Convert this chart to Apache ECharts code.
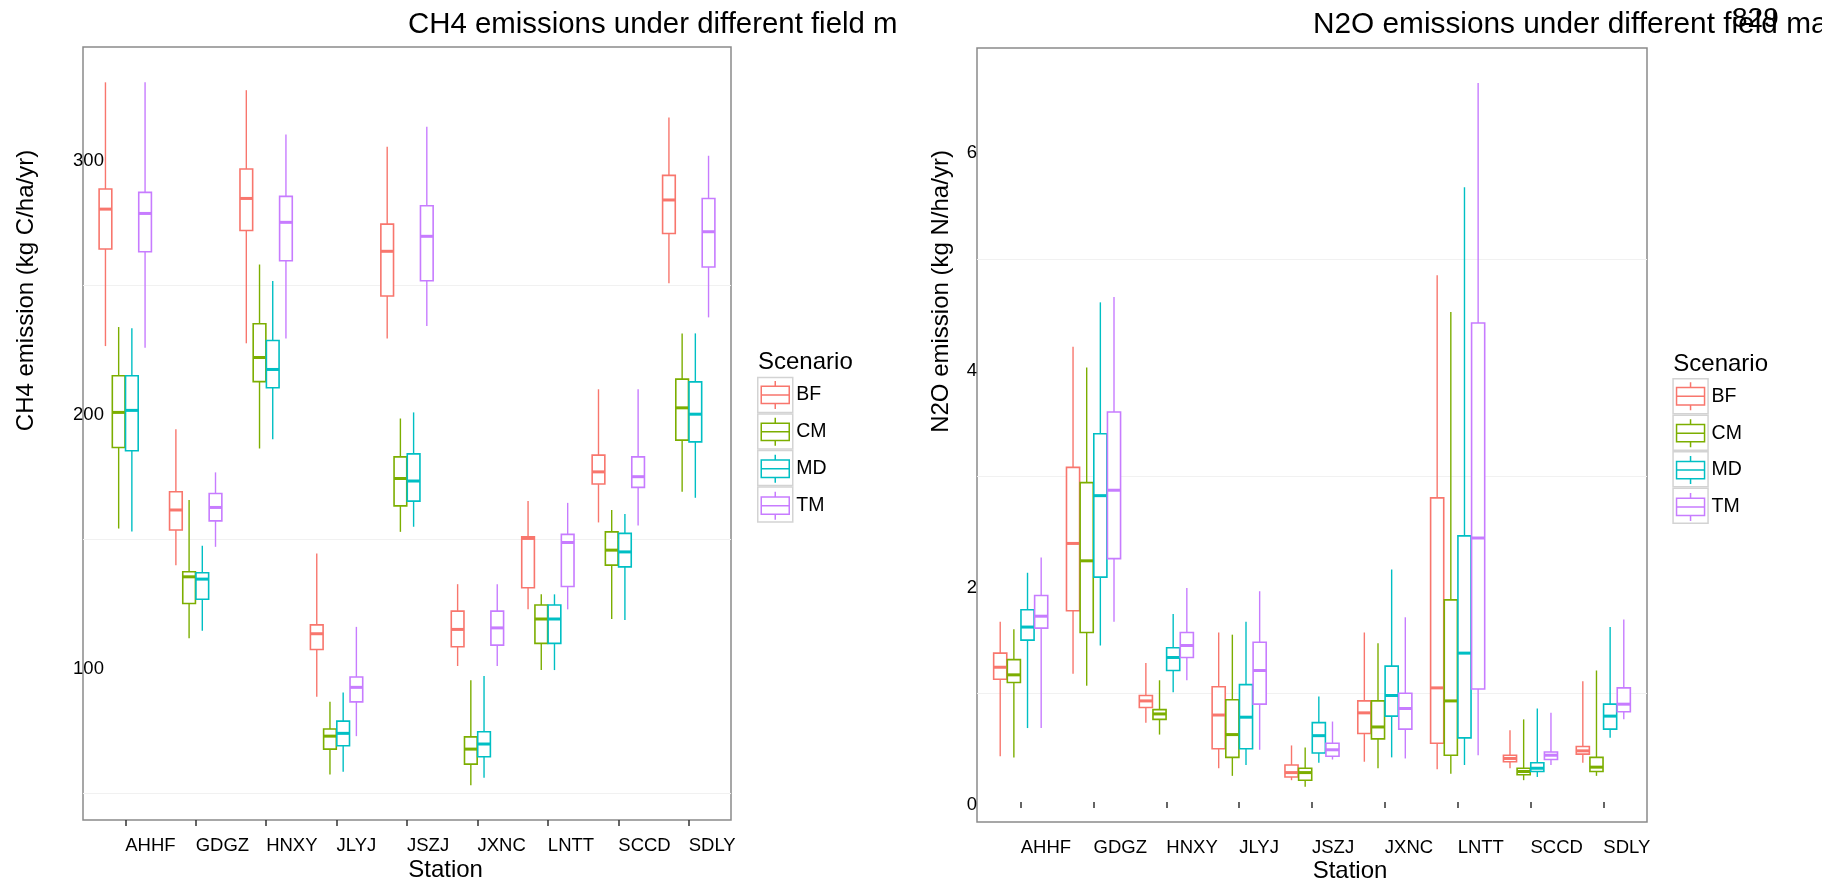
<!DOCTYPE html>
<html>
<head>
<meta charset="utf-8">
<script src="https://cdn.jsdelivr.net/npm/echarts@6/dist/echarts.min.js"></script>
<style>
    body { margin: 0; background: #fff; }
    #main { position: absolute; left: 0; top: 0; width: 897px; height: 884px; }
    #main2 { position: absolute; left: 911px; top: 0; width: 911px; height: 884px; }
</style>
</head>
<body>
<div id="main"></div>
<div id="main2"></div>
<script type="text/javascript">
    var stations = ['AHHF', 'GDGZ', 'HNXY', 'JLYJ', 'JSZJ', 'JXNC', 'LNTT', 'SCCD', 'SDLY'];
    var scenarios = ['BF', 'CM', 'MD', 'TM'];
    var colors = ['#F8766D', '#7CAE00', '#00BFC4', '#C77CFF'];

    // each row: [lower whisker, Q1, median, Q3, upper whisker], one row per station
    var ch4BF = [[226.0, 264.2, 279.9, 287.8, 329.8], [139.8, 153.6, 161.5, 168.7, 193.3], [227.1, 271.5, 284.1, 295.7, 326.7],
        [88.0, 106.6, 112.8, 116.3, 144.4], [229.0, 245.7, 263.3, 274.0, 304.4], [100.1, 107.7, 114.5, 121.7, 132.3],
        [122.4, 130.9, 150.3, 150.9, 165.0], [156.6, 171.7, 176.5, 183.1, 209.0], [250.7, 270.3, 283.5, 293.2, 316.0]];
    var ch4CM = [[154.2, 186.1, 199.9, 214.3, 233.5], [111.0, 124.7, 135.2, 137.2, 165.4], [185.7, 212.0, 221.5, 234.8, 258.1],
        [57.4, 67.4, 72.5, 75.3, 86.0], [152.9, 163.1, 173.9, 182.4, 197.5], [53.2, 61.5, 67.4, 72.2, 94.5],
        [98.5, 109.0, 118.6, 124.1, 128.3], [118.6, 139.8, 145.7, 152.9, 161.5], [168.7, 189.0, 201.7, 213.0, 231.0]];
    var ch4MD = [[153.0, 184.8, 200.7, 214.3, 233.0], [114.0, 126.4, 134.3, 136.8, 147.4], [189.3, 209.6, 216.8, 228.2, 251.6],
        [58.5, 68.7, 73.6, 78.4, 89.7], [154.9, 165.0, 172.9, 183.6, 199.9], [56.1, 64.4, 69.4, 74.2, 96.2],
        [98.5, 109.0, 118.6, 124.1, 128.3], [118.2, 139.1, 145.0, 152.3, 159.9], [166.3, 188.3, 199.2, 211.9, 231.0]];
    var ch4TM = [[225.3, 263.1, 278.2, 286.5, 329.8], [147.0, 157.2, 162.5, 168.0, 176.3], [229.0, 259.6, 274.7, 284.9, 309.3],
        [72.5, 86.0, 91.7, 95.8, 115.5], [233.9, 251.7, 269.2, 281.2, 312.3], [100.1, 108.3, 115.1, 121.7, 132.3],
        [122.4, 131.4, 148.7, 151.9, 164.3], [155.4, 170.4, 174.6, 182.4, 209.0], [237.3, 257.1, 271.0, 284.1, 300.9]];

    var n2oBF = [[0.42, 1.13, 1.24, 1.37, 1.66], [1.18, 1.76, 2.38, 3.08, 4.19], [0.73, 0.87, 0.93, 0.98, 1.28],
        [0.31, 0.49, 0.80, 1.06, 1.56], [0.20, 0.23, 0.27, 0.34, 0.52], [0.37, 0.63, 0.82, 0.93, 1.56],
        [0.30, 0.54, 1.05, 2.80, 4.85], [0.31, 0.37, 0.40, 0.43, 0.66], [0.36, 0.44, 0.47, 0.51, 1.11]];
    var n2oCM = [[0.41, 1.10, 1.17, 1.31, 1.59], [1.07, 1.56, 2.22, 2.94, 4.00], [0.62, 0.76, 0.81, 0.85, 1.12],
        [0.24, 0.41, 0.62, 0.94, 1.54], [0.14, 0.20, 0.27, 0.31, 0.50], [0.31, 0.58, 0.69, 0.93, 1.46],
        [0.26, 0.43, 0.93, 1.86, 4.51], [0.20, 0.25, 0.28, 0.31, 0.76], [0.24, 0.28, 0.32, 0.41, 1.21]];
    var n2oMD = [[0.68, 1.49, 1.61, 1.77, 2.11], [1.44, 2.07, 2.82, 3.39, 4.60], [1.01, 1.21, 1.33, 1.42, 1.73],
        [0.34, 0.49, 0.78, 1.08, 1.66], [0.36, 0.45, 0.61, 0.73, 0.97], [0.41, 0.79, 0.98, 1.25, 2.14],
        [0.34, 0.59, 1.37, 2.45, 5.66], [0.23, 0.28, 0.31, 0.36, 0.86], [0.59, 0.67, 0.79, 0.90, 1.61]];
    var n2oTM = [[0.68, 1.60, 1.71, 1.90, 2.25], [1.66, 2.24, 2.87, 3.59, 4.65], [1.12, 1.33, 1.44, 1.56, 1.97],
        [0.48, 0.90, 1.21, 1.47, 1.94], [0.39, 0.42, 0.48, 0.54, 0.74], [0.40, 0.67, 0.86, 1.00, 1.70],
        [0.43, 1.04, 2.43, 4.41, 6.62], [0.34, 0.39, 0.43, 0.46, 0.82], [0.76, 0.83, 0.90, 1.05, 1.68]];

    var ch4Range = [39.5, 343.7];
    var ch4Labels = [100, 200, 300];
    var ch4Grid = [50, 150, 250];
    var n2oRange = [-0.185, 6.942];
    var n2oLabels = [0, 2, 4, 6];
    var n2oGrid = [1, 3, 5];
    var stationTicks = [0, 1, 2, 3, 4, 5, 6, 7, 8];

    var FONT = "'Liberation Sans', Arial, Helvetica, sans-serif";
    var glyph = 'path://M0,5.35L28,5.35L28,22.65L0,22.65Z M0,14L28,14 M14,0L14,5.35 M14,22.65L14,28';

    // dodged box: each scenario takes 0.1875 of a station slot
    function boxRenderer(k) {
        return function (params, api) {
            var step = api.size([1, 0])[0] * 0.1875;
            var x = api.coord([api.value(0), 0])[0] + (k - 1.5) * step;
            var y = [1, 2, 3, 4, 5].map(function (d) { return api.coord([0, api.value(d)])[1]; });
            var w = step * 0.96;
            var c = colors[k];
            return {
                type: 'group',
                children: [
                    {type: 'line', shape: {x1: x, y1: y[0], x2: x, y2: y[1]}, style: {stroke: c, lineWidth: 1.4}},
                    {type: 'line', shape: {x1: x, y1: y[3], x2: x, y2: y[4]}, style: {stroke: c, lineWidth: 1.4}},
                    {type: 'rect', shape: {x: x - w / 2, y: y[3], width: w, height: y[1] - y[3]},
                        style: {fill: '#fff', stroke: c, lineWidth: 1.6}},
                    {type: 'line', shape: {x1: x - w / 2, y1: y[2], x2: x + w / 2, y2: y[2]}, style: {stroke: c, lineWidth: 3}}
                ]
            };
        };
    }

    function makeOption(p) {
        var series = scenarios.map(function (s, k) {
            return {
                name: s,
                type: 'custom',
                renderItem: boxRenderer(k),
                data: p.values[k].map(function (v, i) { return [i].concat(v); })
            };
        });
        var graphic = [
            {type: 'text', x: p.yNamePos[0], y: p.yNamePos[1], rotation: Math.PI / 2,
                style: {text: p.yName, font: '24px ' + FONT, fill: '#000', align: 'center', verticalAlign: 'middle'}},
            {type: 'text', x: p.xNamePos[0], y: p.xNamePos[1],
                style: {text: 'Station', font: '24px ' + FONT, fill: '#000', align: 'center', verticalAlign: 'middle'}},
            {type: 'text', x: p.legendLeft + 1, y: p.legendTop - 14,
                style: {text: 'Scenario', font: '24px ' + FONT, fill: '#000', align: 'left', verticalAlign: 'middle'}}
        ].concat(p.extra || []);

        return {
            animation: false,
            title: {
                text: p.title, left: p.titleLeft, top: 10, padding: 0,
                textStyle: {fontSize: p.titleSize, fontWeight: 'normal', color: '#000', fontFamily: FONT}
            },
            grid: {
                left: p.grid[0], top: p.grid[1], width: p.grid[2], height: p.grid[3],
                show: true, borderColor: '#8a8a8a', borderWidth: 1.5, outerBoundsMode: 'none'
            },
            xAxis: {
                type: 'value', min: -0.6, max: 8.6,
                axisLine: {show: false},
                axisTick: {show: true, customValues: stationTicks, length: 6, lineStyle: {color: '#333', width: 1.5}},
                axisLabel: {
                    customValues: stationTicks, align: 'left', margin: 16,
                    fontSize: 18.5, color: '#000', fontFamily: FONT,
                    formatter: function (v) { return stations[Math.round(v)]; }
                },
                splitLine: {show: false}
            },
            yAxis: {
                type: 'value', min: p.range[0], max: p.range[1],
                axisLine: {show: false},
                axisTick: {show: false, customValues: p.gridValues},
                axisLabel: {
                    customValues: p.labels, align: 'center', margin: p.labelMargin,
                    verticalAlign: 'top', lineHeight: 6, fontSize: 18.5, color: '#000', fontFamily: FONT
                },
                splitLine: {show: true, lineStyle: {color: '#f1f1f1', width: 1}}
            },
            legend: [
                {
                    orient: 'vertical', left: p.legendLeft, top: p.legendTop, padding: 0,
                    itemWidth: 35, itemHeight: 35, itemGap: 0, icon: 'rect', selectedMode: false,
                    formatter: function () { return ''; }, textStyle: {fontSize: 1},
                    itemStyle: {color: '#fff', borderColor: '#d3d3d3', borderWidth: 1.5},
                    data: scenarios
                },
                {
                    orient: 'vertical', left: p.legendLeft + 3.5, top: p.legendTop + 3.5, padding: 0,
                    itemWidth: 28, itemHeight: 28, itemGap: 7.4, icon: glyph, selectedMode: false,
                    textStyle: {fontSize: 19.5, color: '#000', fontFamily: FONT, padding: [0, 0, 0, 2]},
                    data: scenarios.map(function (s, k) {
                        return {name: s, itemStyle: {color: 'rgba(0,0,0,0)', borderColor: colors[k], borderWidth: 1.5}};
                    })
                }
            ],
            graphic: graphic,
            series: series
        };
    }

    var ch4Chart = echarts.init(document.getElementById('main'));
    ch4Chart.setOption(makeOption({
        title: 'CH4 emissions under different field management',
        titleLeft: 408,
        titleSize: 29.4,
        yName: 'CH4 emission (kg C/ha/yr)',
        yNamePos: [26.5, 290.5],
        xNamePos: [445.6, 870],
        grid: [83, 47, 648, 773],
        range: ch4Range,
        labels: ch4Labels,
        gridValues: ch4Grid,
        labelMargin: -5.5,
        legendLeft: 757,
        legendTop: 376.7,
        values: [ch4BF, ch4CM, ch4MD, ch4TM]
    }));

    var n2oChart = echarts.init(document.getElementById('main2'));
    n2oChart.setOption(makeOption({
        title: 'N2O emissions under different field management',
        titleLeft: 402,
        titleSize: 29.8,
        yName: 'N2O emission (kg N/ha/yr)',
        yNamePos: [30.3, 291.5],
        xNamePos: [439, 871],
        grid: [66, 48, 670, 774],
        range: n2oRange,
        labels: n2oLabels,
        gridValues: n2oGrid,
        labelMargin: 5,
        legendLeft: 761.3,
        legendTop: 378,
        values: [n2oBF, n2oCM, n2oMD, n2oTM],
        extra: [{type: 'text', x: 821, y: 5, style: {text: '829', font: '28px ' + FONT, fill: '#000'}}]
    }));
</script>
</body>
</html>
